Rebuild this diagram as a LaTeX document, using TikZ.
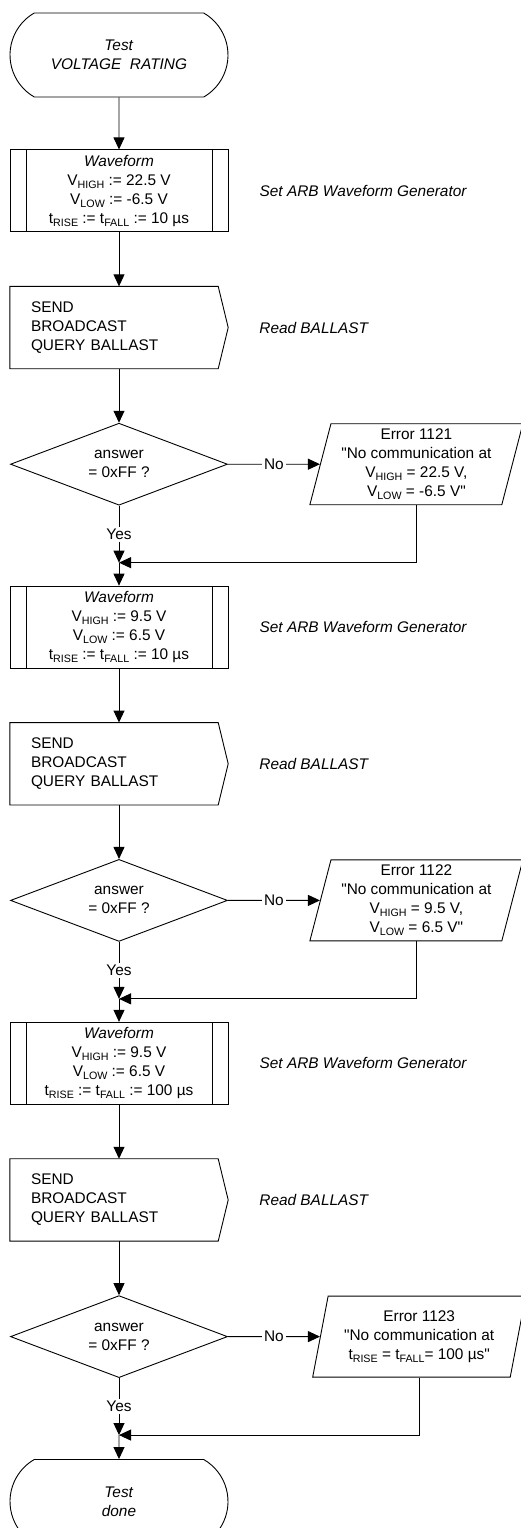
\documentclass[tikz,border=0pt]{standalone}
\usepackage{fontspec}
\setmainfont{Liberation Sans}[Ligatures=TeXOff]
\usetikzlibrary{arrows.meta,positioning,shapes.geometric,shapes.misc}
\newcommand{\sbs}[1]{\raisebox{-3.3pt}{\fontsize{10.7pt}{10.7pt}\selectfont #1}}
\tikzset{
  txt/.style={font=\fontsize{15.4pt}{19pt}\selectfont},
  termbox/.style={rounded rectangle, rounded rectangle arc length=120, draw,
    line width=0.9pt, minimum width=218pt, minimum height=84pt, inner sep=0pt,
    align=center, txt},
  wavebox/.style={rectangle, draw, line width=0.9pt, minimum width=218pt,
    minimum height=82pt, inner sep=0pt, align=center, txt,
    path picture={\draw[line width=0.9pt]
      ([xshift=16pt]path picture bounding box.north west) --
      ([xshift=16pt]path picture bounding box.south west)
      ([xshift=-16pt]path picture bounding box.north east) --
      ([xshift=-16pt]path picture bounding box.south east);}},
  sendbox/.style={rectangle, minimum width=218pt, minimum height=82pt,
    text width=176pt, inner sep=0pt, align=left, txt},
  decbox/.style={diamond, aspect=2.6, draw, line width=0.9pt,
    minimum width=217pt, minimum height=82pt, inner sep=0pt, align=center, txt},
  errbox/.style={trapezium, trapezium left angle=73.5, trapezium right angle=106.5,
    trapezium stretches body, draw, line width=0.9pt, minimum width=213pt,
    minimum height=81pt, inner sep=0pt, align=center, txt},
  note/.style={inner sep=0pt, font=\fontsize{15.4pt}{19pt}\selectfont\itshape},
  lbl/.style={fill=white, inner sep=2pt, txt},
  arr/.style={-{Triangle[length=12pt,width=11pt]}, line width=0.9pt}
}
\begin{document}
\begin{tikzpicture}[x=1pt, y=1pt, node distance=54pt]
  \useasboundingbox (0,0) rectangle (521,-1528);
  \node[termbox] (start) at (119,-55) {\textit{Test}\\\textit{VOLTAGE\ \ RATING}};
  % first block
  \node[wavebox, below=52pt of start] (wave1) {\textit{Waveform}\\V\sbs{HIGH} := 22.5 V\\V\sbs{LOW} := -6.5 V\\t\sbs{RISE} := t\sbs{FALL} := 10 µs};
  \node[sendbox, below=of wave1] (send1) {SEND\\BROADCAST\\QUERY BALLAST};
  \node[decbox, below=of send1] (dec1) {answer\\= 0xFF ?};
  \node[errbox, right=92pt of dec1] (err1) {Error 1121\\"No communication at\\V\sbs{HIGH} = 22.5 V,\\V\sbs{LOW} = -6.5 V"};
  \coordinate[below=57pt of dec1] (m1);
  \node[note, right=31pt of wave1] (note1) {Set ARB Waveform Generator};
  \node[note, right=31pt of send1] (note2) {Read BALLAST};
  % second block
  \node[wavebox, below=80pt of dec1] (wave2) {\textit{Waveform}\\V\sbs{HIGH} := 9.5 V\\V\sbs{LOW} := 6.5 V\\t\sbs{RISE} := t\sbs{FALL} := 10 µs};
  \node[sendbox, below=of wave2] (send2) {SEND\\BROADCAST\\QUERY BALLAST};
  \node[decbox, below=of send2] (dec2) {answer\\= 0xFF ?};
  \node[errbox, right=92pt of dec2] (err2) {Error 1122\\"No communication at\\V\sbs{HIGH} = 9.5 V,\\V\sbs{LOW} = 6.5 V"};
  \coordinate[below=57pt of dec2] (m2);
  \node[note, right=31pt of wave2] (note3) {Set ARB Waveform Generator};
  \node[note, right=31pt of send2] (note4) {Read BALLAST};
  % third block
  \node[wavebox, below=80pt of dec2] (wave3) {\textit{Waveform}\\V\sbs{HIGH} := 9.5 V\\V\sbs{LOW} := 6.5 V\\t\sbs{RISE} := t\sbs{FALL} := 100 µs};
  \node[sendbox, below=of wave3] (send3) {SEND\\BROADCAST\\QUERY BALLAST};
  \node[decbox, below=of send3] (dec3) {answer\\= 0xFF ?};
  \node[errbox, right=92pt of dec3] (err3) {Error 1123\\"No communication at\\t\sbs{RISE} = t\sbs{FALL}= 100 µs"};
  \coordinate[below=57pt of dec3] (m3);
  \node[note, right=31pt of wave3] (note5) {Set ARB Waveform Generator};
  \node[note, right=31pt of send3] (note6) {Read BALLAST};
  \node[termbox, below=81pt of dec3] (stop) {\textit{Test}\\\textit{done}};
  % outline of the send boxes
  \foreach \s in {send1,send2,send3}
    \draw[line width=0.9pt] (\s.north west) -- ([xshift=-10pt]\s.north east) -- (\s.east)
      -- ([xshift=-10pt]\s.south east) -- (\s.south west) -- cycle;
  % connectors
  \draw[arr] (start) -- (wave1);
  \foreach \i/\j in {1/2,2/3} {
    \draw[arr] (wave\i) -- (send\i);
    \draw[arr] (send\i) -- (dec\i);
    \draw[arr] (dec\i) -- node[lbl] {No} (err\i);
    \draw[arr] (dec\i) -- node[lbl] {Yes} (m\i);
    \draw[arr] (err\i) |- (m\i);
    \draw[arr] (m\i) -- (wave\j);
  }
  \draw[arr] (wave3) -- (send3);
  \draw[arr] (send3) -- (dec3);
  \draw[arr] (dec3) -- node[lbl] {No} (err3);
  \draw[arr] (dec3) -- node[lbl] {Yes} (m3);
  \draw[arr] (err3) |- (m3);
  \draw[arr] (m3) -- (stop);
\end{tikzpicture}
\end{document}
